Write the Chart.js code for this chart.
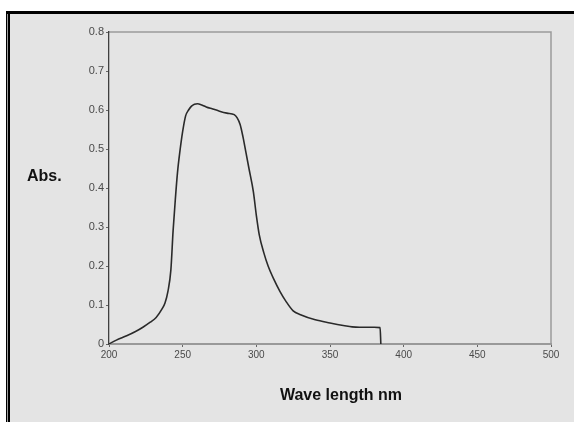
<!DOCTYPE html>
<html>
<head>
<meta charset="utf-8">
<script src="https://cdn.jsdelivr.net/npm/chart.js@4"></script>
<style>
  html, body { margin: 0; padding: 0; background: #fff; }
  #wrap { width: 574px; height: 422px; position: relative; }
</style>
</head>
<body>
<div id="wrap"><canvas id="c" width="574" height="422"></canvas></div>
<script>
// absorbance spectrum
const wavelength = [200, 205, 212, 218, 223, 228, 232, 236, 238, 240, 242, 243.5, 245, 246.5, 248, 250, 252, 254, 256, 258, 260, 263, 266, 270, 275, 280, 285, 287, 289, 291, 293, 295, 298, 300, 302, 305, 308, 312, 316, 320, 325, 330, 340, 350, 360, 365, 370, 375, 380, 384, 384.5];
const absorbance = [0, 0.010, 0.021, 0.032, 0.043, 0.056, 0.068, 0.090, 0.105, 0.135, 0.190, 0.29, 0.37, 0.44, 0.49, 0.545, 0.585, 0.600, 0.610, 0.615, 0.616, 0.613, 0.608, 0.603, 0.597, 0.592, 0.588, 0.580, 0.563, 0.53, 0.49, 0.45, 0.39, 0.33, 0.28, 0.235, 0.2, 0.165, 0.135, 0.11, 0.085, 0.075, 0.062, 0.054, 0.047, 0.044, 0.043, 0.043, 0.043, 0.042, 0];
const xTitle = "Wave length nm";
const yTitle = "Abs.";

const FONT = "'Liberation Sans', Arial, sans-serif";

const frame = {
  id: "frame",
  beforeDraw(chart) {
    const { ctx, chartArea: a } = chart;
    ctx.save();
    ctx.fillStyle = "#fff";
    ctx.fillRect(0, 0, 574, 422);
    ctx.fillStyle = "#e4e4e4";
    ctx.fillRect(6, 11, 568, 411);
    ctx.fillStyle = "#000";
    ctx.fillRect(6, 11, 568, 3);
    ctx.fillRect(6, 11, 1.3, 411);
    ctx.fillRect(8, 11, 2, 411);
    // top / right edge of plot box
    ctx.strokeStyle = "#9a9a9a";
    ctx.lineWidth = 1.5;
    ctx.beginPath();
    ctx.moveTo(a.left, a.top);
    ctx.lineTo(a.right, a.top);
    ctx.lineTo(a.right, a.bottom);
    ctx.stroke();
    ctx.restore();
  },
  afterDraw(chart) {
    const { ctx } = chart;
    ctx.save();
    ctx.fillStyle = "#111";
    ctx.font = "bold 16px " + FONT;
    ctx.textBaseline = "middle";
    ctx.textAlign = "left";
    ctx.fillText(yTitle, 27, 177);
    ctx.textAlign = "center";
    ctx.fillText(xTitle, 341, 396);
    ctx.restore();
  },
};

new Chart(document.getElementById("c"), {
  type: "line",
  data: {
    datasets: [
      {
        data: wavelength.map((x, i) => ({ x, y: absorbance[i] })),
        borderColor: "#2a2a2a",
        borderWidth: 1.6,
        pointRadius: 0,
        cubicInterpolationMode: "monotone",
        fill: false,
      },
    ],
  },
  options: {
    responsive: false,
    animation: false,
    layout: { padding: { left: 0, top: 32, right: 23, bottom: 0 } },
    plugins: { legend: { display: false }, tooltip: { enabled: false } },
    scales: {
      x: {
        type: "linear",
        min: 200,
        max: 500,
        afterFit: (s) => { s.height = 78; },
        grid: { drawOnChartArea: false, tickLength: 3, color: "#666" },
        border: { color: "#999", width: 2 },
        ticks: { stepSize: 50, padding: 2, color: "#4a4a4a", font: { family: FONT, size: 10 } },
      },
      y: {
        min: 0,
        max: 0.8,
        afterFit: (s) => { s.width = 109; },
        grid: { drawOnChartArea: false, tickLength: 3, color: "#666" },
        border: { color: "#404040", width: 1.3 },
        ticks: { stepSize: 0.1, padding: 2, color: "#4a4a4a", font: { family: FONT, size: 11 } },
      },
    },
  },
  plugins: [frame],
});
</script>
</body>
</html>
